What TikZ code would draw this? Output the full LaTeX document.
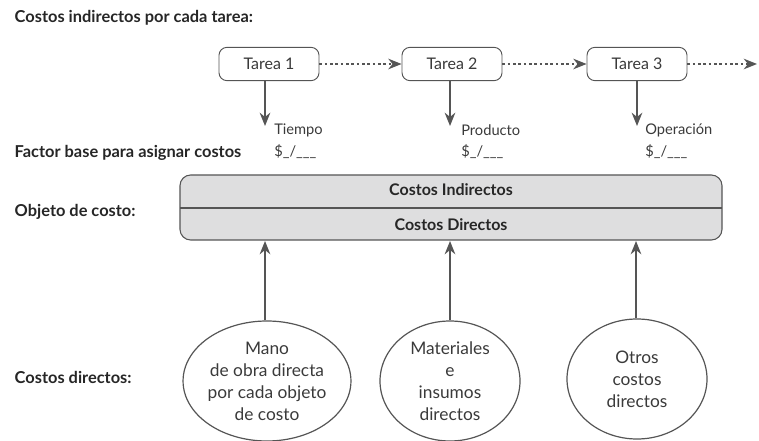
\documentclass[tikz,border=0pt]{standalone}
\usepackage{fontspec}
\setmainfont{Lato}
\usetikzlibrary{arrows.meta,shapes.geometric}
\definecolor{txt}{HTML}{3A3A3A}
\definecolor{lin}{HTML}{555555}
\definecolor{boxfill}{HTML}{DEDEDF}
\begin{document}
\begin{tikzpicture}[x=0.75pt,y=-0.75pt,
  lbl/.style={anchor=base west,font=\bfseries\fontsize{12.3}{14}\selectfont,text=black!85},
  tarea/.style={draw=lin,line width=0.7pt,rounded corners=6pt,minimum width=75pt,minimum height=25pt,font=\fontsize{12}{14}\selectfont,text=txt,fill=white},
  fac/.style={anchor=north west,align=left,font=\fontsize{11}{16}\selectfont,text=txt,inner sep=0pt},
  ell/.style={draw=lin,line width=0.9pt,ellipse,minimum width=105pt,minimum height=90pt,align=center,font=\fontsize{13}{16.5}\selectfont,text=txt,inner sep=0pt},
  down/.style={draw=lin,line width=1.3pt,-{Stealth[length=10pt,width=8pt]}},
  dots/.style={draw=lin,line width=0.8pt,dash pattern=on 2pt off 2pt,-{Stealth[length=10pt,width=8pt]}}
]
\useasboundingbox (0,0) rectangle (759,441);
\node[lbl] (title) at (10,23) {Costos indirectos por cada tarea:};
\node[lbl] (factor) at (10,158) {Factor base para asignar costos};
\node[lbl] (objeto) at (10,217) {Objeto de costo:};
\node[lbl] (cdir) at (10,383) {Costos directos:};

\node[tarea] (t1) at (269,64) {Tarea 1};
\node[tarea] (t2) at (452,64) {Tarea 2};
\node[tarea] (t3) at (637,64) {Tarea 3};
\coordinate (tend) at (757,64);
\draw[dots] (t1) -- (t2);
\draw[dots] (t2) -- (t3);
\draw[dots,line width=1.3pt] (t3) -- (tend);

\coordinate (a1) at (265,126);
\coordinate (a2) at (450,126);
\coordinate (a3) at (637,126);
\draw[down] (t1.south -| a1) -- (a1);
\draw[down] (t2.south -| a2) -- (a2);
\draw[down] (t3.south -| a3) -- (a3);

\node[fac] (f1) at (274,124) {Tiempo\\\$\_/\_\_\_};
\node[fac] (f2) at (461,124) {Producto\\\$\_/\_\_\_};
\node[fac] (f3) at (645,124) {Operación\\\$\_/\_\_\_};

\draw[lin,line width=0.8pt,fill=boxfill,rounded corners=8pt] (180,175) rectangle (722,240);
\draw[lin,line width=0.8pt] (180,208) -- (722,208);
\node[font=\bfseries\fontsize{12}{14}\selectfont,text=black!85] (ci) at (451,190) {Costos Indirectos};
\node[font=\bfseries\fontsize{12}{14}\selectfont,text=black!85] (cd) at (451,225) {Costos Directos};
\coordinate (b1) at (265,241);
\coordinate (b2) at (450,241);
\coordinate (b3) at (636,241);

\node[ell] (e1) at (267,381) {Mano\\de obra directa\\por cada objeto\\de costo};
\node[ell] (e2) at (450,381) {Materiales\\e\\insumos\\directos};
\node[ell] (e3) at (637,379) {Otros\\costos\\directos};
\draw[down] (e1.north -| b1) -- (b1);
\draw[down] (e2.north -| b2) -- (b2);
\draw[down,line width=0.9pt] (e3.north -| b3) -- (b3);
\end{tikzpicture}
\end{document}
